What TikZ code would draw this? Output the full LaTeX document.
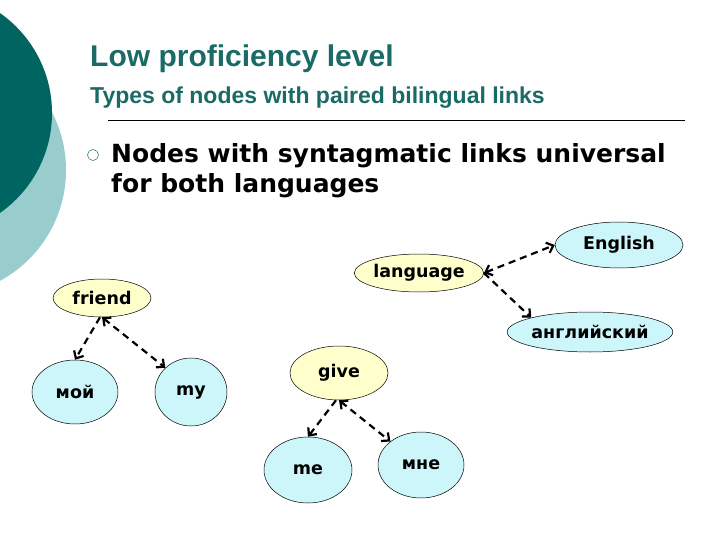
\documentclass[tikz,border=0pt]{standalone}
\usepackage{fontspec}
\setmainfont{DejaVu Sans}
\newfontfamily\titlefont{Liberation Sans}
\usetikzlibrary{arrows.meta,shapes.geometric}
\definecolor{darkteal}{HTML}{006560}
\definecolor{lightteal}{HTML}{99CCCC}
\definecolor{titlecol}{HTML}{1A6B66}
\definecolor{cream}{HTML}{FFFFCC}
\definecolor{aqua}{HTML}{CCF6FA}
\newcommand{\nodefont}{\fontsize{17.5}{20}\selectfont\bfseries}
\begin{document}
\begin{tikzpicture}[x=1pt,y=-1pt,
  wnode/.style={ellipse,draw=black,line width=0.5pt,inner sep=0pt,font=\nodefont},
  par/.style={wnode,fill=cream},
  kid/.style={wnode,fill=aqua},
  link/.style={line width=2.2pt,dash pattern=on 7pt off 5pt,-{Straight Barb[length=6pt,width=11pt]}},
  blink/.style={link,{Straight Barb[length=6pt,width=11pt]}-{Straight Barb[length=6pt,width=11pt]}}]
\path[use as bounding box] (0,0) rectangle (720,540);
\fill[white] (0,0) rectangle (720,540);
\begin{scope}
\clip (0,0) rectangle (720,540);
\fill[lightteal] (-60,170) circle (126);
\fill[darkteal] (-70,113) circle (122);
\end{scope}
\node[anchor=base west,text=titlecol,font=\titlefont\bfseries\fontsize{30}{34}\selectfont,inner sep=0pt] (t1) at (90,67) {Low proficiency level};
\node[anchor=base west,text=titlecol,font=\titlefont\bfseries\fontsize{23}{27}\selectfont,inner sep=0pt] (t2) at (90,104) {Types of nodes with paired bilingual links};
\draw[line width=0.6pt] (108,120) -- (685,120);
\node[circle,draw=titlecol,line width=0.5pt,minimum size=11pt,inner sep=0pt] (b) at (93,155) {};
\node[anchor=base west,font=\fontsize{25}{30}\selectfont\bfseries,inner sep=0pt] (txt1) at (111,163) {Nodes with syntagmatic links universal};
\node[anchor=base west,font=\fontsize{25}{30}\selectfont\bfseries,inner sep=0pt] (txt2) at (111,193) {for both languages};
\node[par,minimum width=98pt,minimum height=38pt] (friend) at (102,298) {friend};
\node[par,minimum width=122pt,minimum height=38pt] (language) at (419,273) {language};
\node[kid,minimum width=128pt,minimum height=46pt] (english) at (619,245) {English};
\node[kid,minimum width=140pt,minimum height=40pt] (angl) at (590,332) {английский};
\node[kid,minimum width=86pt,minimum height=64pt] (moy) at (75,392) {мой};
\node[kid,minimum width=72pt,minimum height=68pt] (my) at (191,392) {my};
\node[par,minimum width=98pt,minimum height=54pt] (give) at (339,373) {give};
\node[kid,minimum width=88pt,minimum height=66pt] (me) at (308,470) {me};
\node[kid,minimum width=86pt,minimum height=66pt] (mne) at (421,465) {мне};
\draw[link] (friend.south) ++(-2,0) -- (moy.north);
\draw[blink] (friend.south) -- (my.north west);
\draw[link] (give.south) ++(-3,0) -- (me.north);
\draw[blink] (give.south) -- (mne.north west);
\draw[blink] (language.east) -- (english.west);
\draw[link] (language.east) -- (angl.north west);
\end{tikzpicture}
\end{document}
